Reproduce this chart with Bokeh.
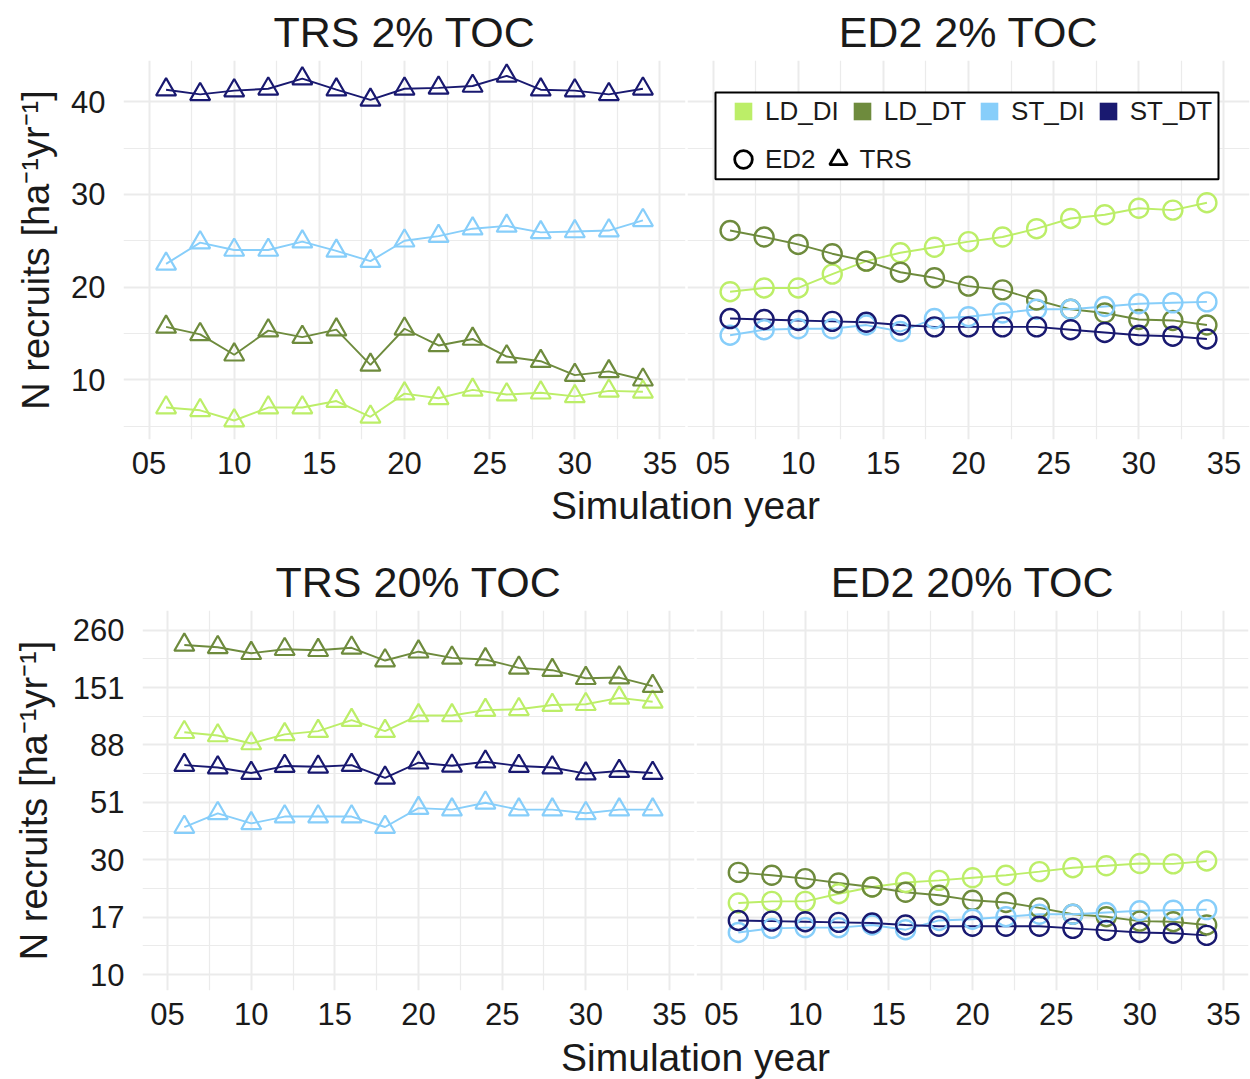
import numpy as np
from bokeh.plotting import figure
from bokeh.layouts import column, row
from bokeh.models import (Range1d, FixedTicker, CustomJSTickFormatter, Legend,
                          LegendItem, BoxAnnotation, Label)
from bokeh.embed import file_html
from bokeh.resources import INLINE

# ---------------- data ----------------
years = [6, 8, 10, 12, 14, 16, 18, 20, 22, 24, 26, 28, 30, 32, 34]
groups = ["LD_DI", "LD_DT", "ST_DI", "ST_DT"]
colors = ["#BCEE68", "#6E8B3D", "#87CEFA", "#191970"]

trs2_ld_di = [7.0, 6.7, 5.6, 7.0, 7.0, 7.7, 6.0, 8.5, 8.0, 8.9, 8.4, 8.6, 8.2, 8.8, 8.7]
trs2_ld_dt = [15.7, 14.9, 12.7, 15.3, 14.6, 15.4, 11.6, 15.5, 13.7, 14.4, 12.5, 12.0, 10.5, 10.9, 10.0]
trs2_st_di = [22.5, 24.8, 24.0, 24.0, 24.9, 23.9, 22.8, 25.0, 25.5, 26.3, 26.6, 25.9, 26.0, 26.1, 27.2]
trs2_st_dt = [41.3, 40.8, 41.2, 41.4, 42.5, 41.3, 40.2, 41.4, 41.5, 41.7, 42.8, 41.3, 41.2, 40.8, 41.4]

ed2_2_ld_di = [19.5, 19.9, 19.9, 21.4, 22.8, 23.7, 24.3, 24.9, 25.4, 26.3, 27.4, 27.8, 28.5, 28.3, 29.1]
ed2_2_ld_dt = [26.1, 25.4, 24.6, 23.6, 22.8, 21.6, 21.0, 20.1, 19.7, 18.6, 17.6, 17.2, 16.5, 16.4, 15.9]
ed2_2_st_di = [14.8, 15.4, 15.5, 15.5, 15.9, 15.2, 16.6, 16.8, 17.2, 17.6, 17.6, 17.9, 18.2, 18.3, 18.4]
ed2_2_st_dt = [16.6, 16.5, 16.4, 16.3, 16.2, 15.9, 15.7, 15.7, 15.7, 15.7, 15.4, 15.1, 14.8, 14.7, 14.4]

trs20_ld_di = [99, 96, 89, 97, 100, 111, 100, 116, 116, 122, 123, 128, 129, 137, 132]
trs20_ld_dt = [226, 221, 209, 217, 215, 220, 195, 212, 200, 197, 182, 178, 165, 166, 153]
trs20_st_di = [40.4, 46.0, 41.8, 44.6, 44.6, 44.6, 40.4, 48.3, 47.6, 50.8, 47.6, 47.6, 46.0, 47.6, 47.6]
trs20_st_dt = [72.5, 70.9, 67.3, 71.9, 71.4, 72.5, 64.3, 74.2, 72.1, 74.9, 71.9, 70.9, 66.9, 68.6, 67.3]

ed2_20_ld_di = [19.7, 20.0, 20.0, 21.5, 22.9, 23.9, 24.4, 25.0, 25.6, 26.5, 27.5, 28.0, 28.6, 28.5, 29.3]
ed2_20_ld_dt = [26.3, 25.6, 24.8, 23.8, 22.9, 21.8, 21.2, 20.2, 19.8, 18.8, 17.7, 17.3, 16.6, 16.5, 16.0]
ed2_20_st_di = [14.9, 15.5, 15.6, 15.6, 16.0, 15.3, 16.7, 16.9, 17.3, 17.7, 17.7, 18.0, 18.3, 18.4, 18.5]
ed2_20_st_dt = [16.7, 16.6, 16.5, 16.4, 16.3, 16.0, 15.8, 15.8, 15.8, 15.8, 15.5, 15.2, 14.9, 14.8, 14.5]

x_major = [5, 10, 15, 20, 25, 30, 35]
x_minor = [7.5, 12.5, 17.5, 22.5, 27.5, 32.5]
y2_major = [10, 20, 30, 40]
y2_minor = [5, 15, 25, 35]
y20_major = list(np.geomspace(10, 260, 7))          # labelled 10,17,30,51,88,151,260
y20_minor = list(np.sqrt(np.array(y20_major[:-1]) * np.array(y20_major[1:])))

FONT = "Liberation Sans"
TXT = "#1a1a1a"
GRID = "#ebebeb"

X_RANGE = (3.5, 36.5)
Y2_RANGE = (3.55, 44.45)
Y20_RANGE = (8.61, 313.0)

YLABEL = "N recruits [ha\u207b\u00b9yr\u207b\u00b9]"


def panel(title, series, marker, width, height, bl, br, bt, bb, show_y, log):
    yr = Y20_RANGE if log else Y2_RANGE
    p = figure(width=width, height=height,
               x_range=Range1d(*X_RANGE), y_range=Range1d(*yr),
               y_axis_type="log" if log else "linear",
               y_axis_location="left" if show_y else None,
               output_backend="svg", toolbar_location=None,
               min_border_left=bl, min_border_right=br,
               min_border_top=bt, min_border_bottom=bb)
    p.outline_line_color = None
    p.background_fill_color = "white"
    p.border_fill_color = "white"

    p.title.text = title
    p.title.align = "center"
    p.title.text_font = FONT
    p.title.text_font_size = "43px"
    p.title.text_font_style = "normal"
    p.title.text_color = TXT
    p.title.standoff = 10

    ymaj = y20_major if log else y2_major
    ymin = y20_minor if log else y2_minor

    p.xgrid.ticker = FixedTicker(ticks=x_major, minor_ticks=x_minor)
    p.ygrid.ticker = FixedTicker(ticks=ymaj, minor_ticks=ymin)
    for g in (p.xgrid, p.ygrid):
        g.grid_line_color = GRID
        g.grid_line_width = 2
        g.minor_grid_line_color = GRID
        g.minor_grid_line_width = 1.2

    ax = p.xaxis[0]
    ax.ticker = FixedTicker(ticks=x_major)
    ax.formatter = CustomJSTickFormatter(
        code="return (tick < 10 ? '0' : '') + tick.toFixed(0);")
    ax.axis_line_color = None
    ax.major_tick_line_color = None
    ax.minor_tick_line_color = None
    ax.major_label_text_font = FONT
    ax.major_label_text_font_size = "31px"
    ax.major_label_text_color = TXT
    ax.major_label_standoff = 6

    if show_y:
        ay = p.yaxis[0]
        ay.ticker = FixedTicker(ticks=ymaj)
        ay.formatter = CustomJSTickFormatter(code="return Math.round(tick).toFixed(0);")
        ay.axis_line_color = None
        ay.major_tick_line_color = None
        ay.minor_tick_line_color = None
        ay.major_label_text_font = FONT
        ay.major_label_text_font_size = "31px"
        ay.major_label_text_color = TXT
        ay.major_label_standoff = 12
        ay.axis_label = YLABEL
        ay.axis_label_text_font = FONT
        ay.axis_label_text_font_size = "38px"
        ay.axis_label_text_font_style = "normal"
        ay.axis_label_text_color = TXT
        ay.axis_label_standoff = 11 if not log else 15

    for vals, c in zip(series, colors):
        p.line(years, vals, line_color=c, line_width=1.9)
    for vals, c in zip(series, colors):
        if marker == "circle":
            p.scatter(years, vals, marker="circle", size=19, fill_color=None,
                      line_color=c, line_width=2.4)
        else:
            p.scatter(years, vals, marker="triangle", size=20, fill_color=None,
                      line_color=c, line_width=2.2)
    return p


def label_fig(height, cx, cy):
    f = figure(width=1250, height=height, x_range=Range1d(0, 1250),
               y_range=Range1d(0, height), x_axis_location=None,
               y_axis_location=None, output_backend="svg",
               toolbar_location=None, min_border=0)
    f.outline_line_color = None
    f.grid.visible = False
    f.add_layout(Label(x=cx, y=height - cy, text="Simulation year",
                       text_align="center", text_baseline="middle",
                       text_font=FONT, text_font_size="39px", text_color=TXT))
    return f


tl = panel("TRS 2% TOC", [trs2_ld_di, trs2_ld_dt, trs2_st_di, trs2_st_dt],
           "triangle", 686, 485, 123, 1, 59, 46, True, False)
tr = panel("ED2 2% TOC", [ed2_2_ld_di, ed2_2_ld_dt, ed2_2_st_di, ed2_2_st_dt],
           "circle", 564, 485, 1, 1, 59, 46, False, False)
bl = panel("TRS 20% TOC", [trs20_ld_di, trs20_ld_dt, trs20_st_di, trs20_st_dt],
           "triangle", 695, 505, 142, 1, 80, 45, True, True)
br = panel("ED2 20% TOC", [ed2_20_ld_di, ed2_20_ld_dt, ed2_20_st_di, ed2_20_st_dt],
           "circle", 555, 505, 1, 2, 80, 45, False, True)

# ---------------- legend (top-right panel) ----------------
FRAME_W, FRAME_H = 562, 380


def px_to_x(off):
    return X_RANGE[0] + off * (X_RANGE[1] - X_RANGE[0]) / FRAME_W


def px_to_y(off_top):
    return Y2_RANGE[1] - off_top * (Y2_RANGE[1] - Y2_RANGE[0]) / FRAME_H


box = BoxAnnotation(left=px_to_x(28), right=px_to_x(531),
                    top=px_to_y(32), bottom=px_to_y(119),
                    fill_color="white", fill_alpha=1.0,
                    line_color="black", line_width=2, line_alpha=1.0,
                    level="annotation")
tr.add_layout(box)

nan = [np.nan]
col_items = []
for g, c in zip(groups, colors):
    r = tr.scatter(nan, nan, marker="square", size=17, fill_color=c, line_color=None)
    col_items.append(LegendItem(label=g, renderers=[r]))
r_c = tr.scatter(nan, nan, marker="circle", size=17, fill_color=None,
                 line_color="black", line_width=2.8)
r_t = tr.scatter(nan, nan, marker="triangle", size=21, fill_color=None,
                 line_color="black", line_width=2.8)
shape_items = [LegendItem(label="ED2", renderers=[r_c]),
               LegendItem(label="TRS", renderers=[r_t])]

common = dict(orientation="horizontal", label_text_font=FONT,
              label_text_font_size="26px", label_text_color=TXT,
              padding=0, margin=0, label_standoff=0,
              border_line_color=None, background_fill_alpha=0.0)
leg1 = Legend(items=col_items, location=(34, 306), glyph_width=44, glyph_height=44,
              label_height=44, spacing=1, **common)
leg2 = Legend(items=shape_items, location=(34, 257), glyph_width=44, glyph_height=46,
              label_height=46, spacing=0, **common)
tr.add_layout(leg1)
tr.add_layout(leg2)

lab1 = label_fig(45, 685, 20)
lab2 = label_fig(44, 695, 22)

layout = column(row(tl, tr, spacing=0), lab1, row(bl, br, spacing=0), lab2, spacing=0)

open("out.html", "w").write(file_html(layout, INLINE))
